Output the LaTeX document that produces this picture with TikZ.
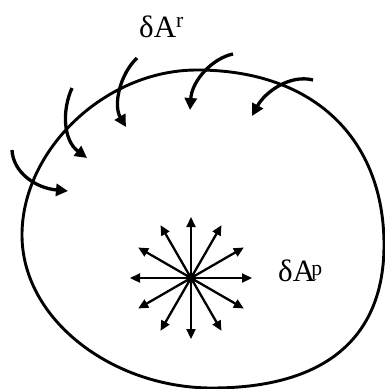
\documentclass[tikz,border=0pt]{standalone}
\usepackage{fontspec}
\setmainfont{Liberation Serif}
\usetikzlibrary{arrows.meta}

\tikzset{
  boundary/.style={line width=2.9pt},
  inflow/.style={line width=3.3pt, -{Triangle[length=12pt,width=12pt]}},
  outflow/.style={line width=2.3pt, -{Triangle[length=10pt,width=9pt]}},
  lbl/.style={font=\fontsize{31}{33}\selectfont, inner sep=0pt, anchor=base west}
}

\begin{document}
\begin{tikzpicture}[x=1pt,y=-1pt]
  \useasboundingbox (0,0) rectangle (385,389);

  % closed region
  \coordinate (top) at (197,70);
  \coordinate (rgt) at (384,245);
  \coordinate (bot) at (212,388);
  \coordinate (lft) at (22,235);
  \draw[boundary] (top) .. controls (315,70) and (384,140) .. (rgt)
    .. controls (384,338) and (325,388) .. (bot)
    .. controls (113,388) and (22,320) .. (lft)
    .. controls (22,150) and (105,70) .. (top) -- cycle;

  % incoming flux
  \draw[inflow] (12,150) .. controls (13,172) and (35,188) .. (68,191);
  \draw[inflow] (72,88) .. controls (62,110) and (63,140) .. (87,158);
  \draw[inflow] (137,58) .. controls (120,74) and (113,105) .. (126,127);
  \draw[inflow] (233,54) .. controls (213,58) and (192,80) .. (190,110);
  \draw[inflow] (313,80) .. controls (290,74) and (265,92) .. (252,116);

  % source point
  \node[circle, fill, inner sep=0pt, minimum size=10pt] (src) at (191,278) {};
  \foreach \a in {0,30,...,330}
    \draw[outflow] (src.center) -- ++(\a:61);

  \node[lbl] (dar) at (139,37) {δA\textsuperscript{r}};
  \node[lbl] (dap) at (278,281) {δA\kern-0.12em\raisebox{-4pt}{\textsuperscript{p}}};
\end{tikzpicture}
\end{document}
